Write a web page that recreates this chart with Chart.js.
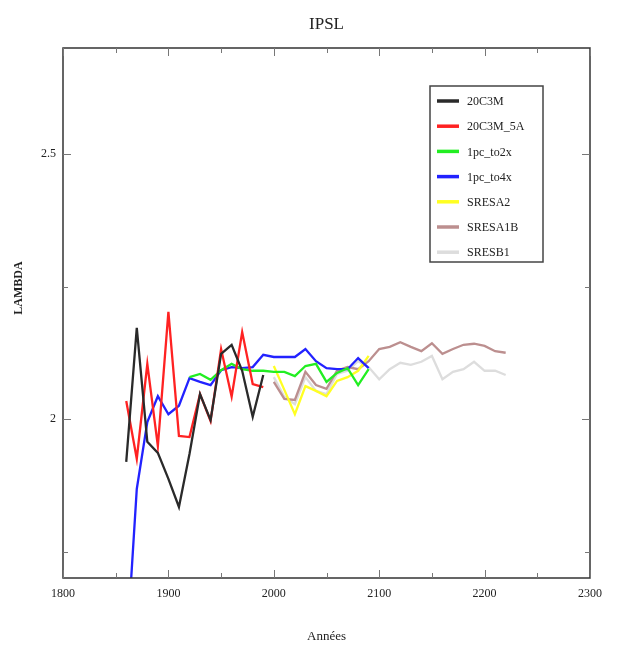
<!DOCTYPE html>
<html>
<head>
<meta charset="utf-8">
<script src="https://cdn.jsdelivr.net/npm/chart.js@4/dist/chart.umd.min.js"></script>
<style>
html,body{margin:0;padding:0;background:#fff;}
#wrap{width:621px;height:649px;position:relative;}
</style>
</head>
<body>
<div id="wrap"><canvas id="c" width="621" height="649"></canvas></div>
<script>
// ---- data ----
const title = "IPSL";
const xTitle = "Années";
const yTitle = "LAMBDA";
const xTickLabels = [1800, 1900, 2000, 2100, 2200, 2300];
const yTickLabels = [2, 2.5];

const years20C = [1860,1870,1880,1890,1900,1910,1920,1930,1940,1950,1960,1970,1980,1990];
const s20C3M    = [1.919,2.172,1.957,1.936,1.887,1.834,1.934,2.047,1.998,2.123,2.140,2.091,2.004,2.083];
const s20C3M_5A = [2.034,1.925,2.104,1.949,2.202,1.968,1.966,2.047,1.996,2.132,2.042,2.164,2.066,2.060];

const years4x = [1860,1870,1880,1890,1900,1910,1920,1930,1940,1950,1960,1970,1980,1990,2000,2010,2020,2030,2040,2050,2060,2070,2080,2090];
const s1pc_to4x = [1.55,1.868,1.994,2.043,2.009,2.025,2.077,2.070,2.064,2.092,2.098,2.096,2.098,2.121,2.117,2.117,2.117,2.132,2.109,2.096,2.094,2.094,2.115,2.096];

const years2x = [1920,1930,1940,1950,1960,1970,1980,1990,2000,2010,2020,2030,2040,2050,2060,2070,2080,2090];
const s1pc_to2x = [2.079,2.085,2.074,2.092,2.104,2.094,2.091,2.091,2.089,2.089,2.081,2.100,2.104,2.070,2.087,2.096,2.064,2.094];

const yearsA2 = [2000,2010,2020,2030,2040,2050,2060,2070,2080,2090];
const sSRESA2 = [2.100,2.055,2.009,2.062,2.053,2.043,2.072,2.079,2.091,2.119];

const yearsSRES = [2000,2010,2020,2030,2040,2050,2060,2070,2080,2090,2100,2110,2120,2130,2140,2150,2160,2170,2180,2190,2200,2210,2220];
const sSRESA1B = [2.070,2.038,2.036,2.089,2.064,2.057,2.091,2.098,2.094,2.109,2.132,2.136,2.145,2.136,2.128,2.143,2.123,2.132,2.140,2.142,2.138,2.128,2.125];
const sSRESB1  = [2.079,2.042,2.028,2.079,2.053,2.047,2.085,2.091,2.109,2.098,2.075,2.094,2.106,2.102,2.108,2.119,2.075,2.089,2.094,2.108,2.091,2.091,2.083];

const seriesNames  = ["20C3M","20C3M_5A","1pc_to2x","1pc_to4x","SRESA2","SRESA1B","SRESB1"];
const seriesColors = ["#2a2a2a","#ff2222","#22ee22","#2222ff","#ffff22","#bc8f8f","#dddddd"];

function pts(xs, ys){ return xs.map((x,i)=>({x:x, y:ys[i]})); }
const seriesData = [
  pts(years20C, s20C3M), pts(years20C, s20C3M_5A), pts(years2x, s1pc_to2x),
  pts(years4x, s1pc_to4x), pts(yearsA2, sSRESA2), pts(yearsSRES, sSRESA1B), pts(yearsSRES, sSRESB1)
];

const SERIF = "'Liberation Serif','DejaVu Serif',serif";

const decor = {
  id: 'decor',
  afterDatasetsDraw(chart){
    const ctx = chart.ctx, a = chart.chartArea;
    const xs = chart.scales.x, ys = chart.scales.y;
    ctx.save();
    // frame
    ctx.strokeStyle = '#333';
    ctx.lineWidth = 1.5;
    ctx.strokeRect(a.left, a.top, a.right - a.left, a.bottom - a.top);
    // ticks inward
    ctx.strokeStyle = '#777';
    ctx.lineWidth = 1;
    for (let v = 1800; v <= 2300; v += 50) {
      const px = Math.round(xs.getPixelForValue(v)) + 0.5;
      const len = (v % 100 === 0) ? 8 : 5;
      ctx.beginPath();
      ctx.moveTo(px, a.bottom); ctx.lineTo(px, a.bottom - len);
      ctx.moveTo(px, a.top); ctx.lineTo(px, a.top + len);
      ctx.stroke();
    }
    for (let v = 1.75; v <= 2.5; v += 0.25) {
      const py = Math.round(ys.getPixelForValue(v)) + 0.5;
      const len = (Math.abs(v - 2) < 1e-6 || Math.abs(v - 2.5) < 1e-6) ? 8 : 5;
      ctx.beginPath();
      ctx.moveTo(a.left, py); ctx.lineTo(a.left + len, py);
      ctx.moveTo(a.right, py); ctx.lineTo(a.right - len, py);
      ctx.stroke();
    }
    // legend
    const lx = 430, ly = 86, lw = 113, lh = 176;
    ctx.fillStyle = '#fff';
    ctx.fillRect(lx, ly, lw, lh);
    ctx.strokeStyle = '#444';
    ctx.lineWidth = 1.5;
    ctx.strokeRect(lx, ly, lw, lh);
    ctx.font = "12px " + SERIF;
    ctx.textBaseline = 'middle';
    ctx.textAlign = 'left';
    for (let i = 0; i < seriesNames.length; i++) {
      const y = 101 + i * 25.2;
      ctx.strokeStyle = seriesColors[i];
      ctx.lineWidth = 3.5;
      ctx.beginPath(); ctx.moveTo(437, y); ctx.lineTo(459, y); ctx.stroke();
      ctx.fillStyle = '#222';
      ctx.fillText(seriesNames[i], 467, y + 1);
    }
    // titles
    ctx.fillStyle = '#222';
    ctx.textAlign = 'center';
    ctx.font = "17px " + SERIF;
    ctx.fillText(title, (a.left + a.right) / 2, 25);
    ctx.font = "13px " + SERIF;
    ctx.fillText(xTitle, (a.left + a.right) / 2, 637);
    ctx.save();
    ctx.translate(19, 288);
    ctx.rotate(-Math.PI / 2);
    ctx.font = "bold 12px " + SERIF;
    ctx.fillText(yTitle, 0, 0);
    ctx.restore();
    ctx.restore();
  }
};

new Chart(document.getElementById('c'), {
  type: 'line',
  data: {
    datasets: seriesData.map((d, i) => ({
      label: seriesNames[i],
      data: d,
      borderColor: seriesColors[i],
      backgroundColor: seriesColors[i],
      borderWidth: 2.3,
      pointRadius: 0,
      tension: 0,
      fill: false
    }))
  },
  options: {
    responsive: false,
    animation: false,
    layout: { padding: { left: 0, right: 31, top: 48, bottom: 0 } },
    plugins: { legend: { display: false }, title: { display: false }, tooltip: { enabled: false } },
    scales: {
      x: {
        type: 'linear', min: 1800, max: 2300,
        afterBuildTicks: s => { s.ticks = xTickLabels.map(v => ({ value: v })); },
        afterFit: s => { s.height = 71; },
        grid: { display: false, drawTicks: false },
        border: { display: false },
        ticks: { padding: 9, color: '#222', font: { family: SERIF, size: 12 }, maxRotation: 0, autoSkip: false,
                 callback: v => String(v) }
      },
      y: {
        type: 'linear', min: 1.7, max: 2.7,
        afterBuildTicks: s => { s.ticks = yTickLabels.map(v => ({ value: v })); },
        afterFit: s => { s.width = 63; },
        grid: { display: false, drawTicks: false },
        border: { display: false },
        ticks: { padding: 7, color: '#222', font: { family: SERIF, size: 12 }, autoSkip: false,
                 callback: v => String(v) }
      }
    }
  },
  plugins: [decor]
});
</script>
</body>
</html>
